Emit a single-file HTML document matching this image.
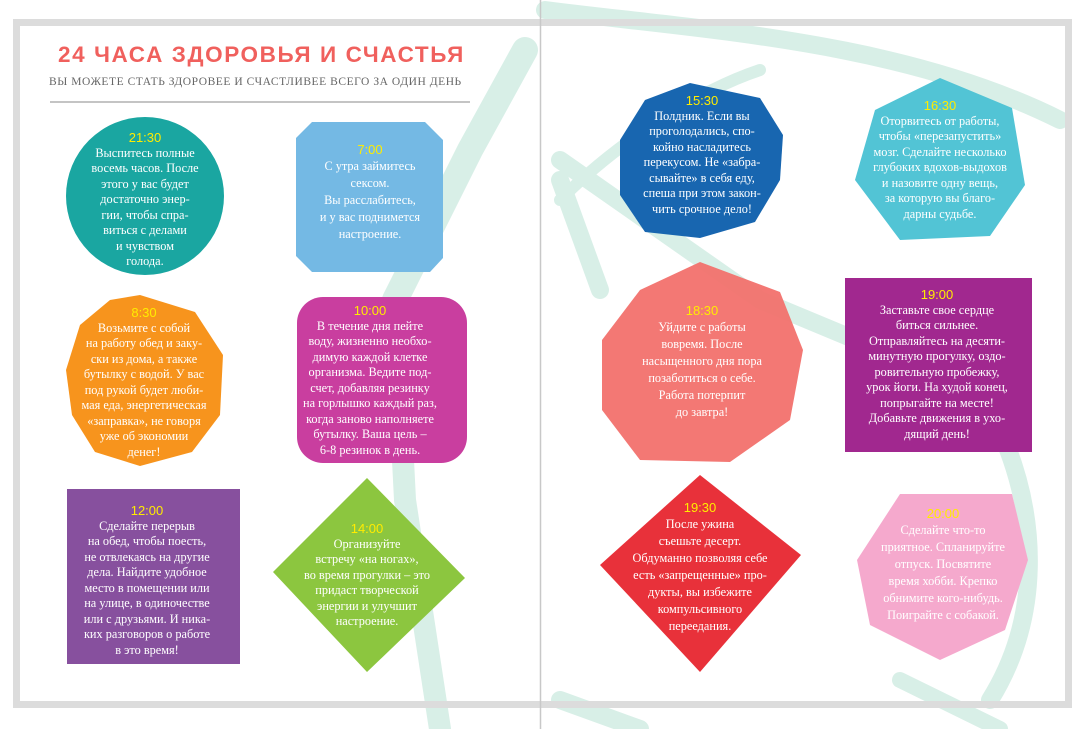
<!DOCTYPE html>
<html><head><meta charset="utf-8">
<style>
html,body{margin:0;padding:0}
body{width:1087px;height:729px;position:relative;overflow:hidden;background:#fff;font-family:"Liberation Serif","DejaVu Serif",serif}
svg{position:absolute;left:0;top:0}
.t{position:absolute;text-align:center;color:#fff;font-size:12.3px;line-height:15.5px;white-space:nowrap;transform:translateX(-50%)}
.t b{color:#ffec00;font-family:"Liberation Sans",sans-serif;font-weight:normal;font-size:13px;display:block}
.title{position:absolute;left:58px;top:42px;font-family:"Liberation Sans",sans-serif;font-weight:bold;font-size:22.5px;letter-spacing:1.6px;color:#f0605d}
.sub{position:absolute;left:49px;top:76px;font-size:11.5px;color:#666;letter-spacing:0.55px}
</style></head><body>
<svg width="1087" height="729" viewBox="0 0 1087 729">
 <g fill="none" stroke="#d8efe7" stroke-linecap="round">
  <path d="M525 50 L470 150 L395 300" stroke-width="26"/>
  <path d="M395 300 L405 500 L440 729" stroke-width="22"/>
  <path d="M560 180 L600 290" stroke-width="18"/>
  <path d="M545 10 C700 30 900 40 1060 120" stroke-width="18"/>
  <path d="M560 200 C620 140 700 90 760 70" stroke-width="12"/>
  <path d="M560 160 L760 300 L1000 400" stroke-width="18"/>
  <path d="M1000 430 C1040 520 1040 620 990 700" stroke-width="18"/>
  <path d="M560 700 L640 729" stroke-width="18"/>
  <path d="M900 680 L1000 729" stroke-width="16"/>
 </g>
 <rect x="16.5" y="22.5" width="1052" height="682" fill="none" stroke="#dcdcdc" stroke-width="7"/>
 <line x1="540.5" y1="0" x2="540.5" y2="729" stroke="#c8c8c8" stroke-width="1.5"/>
 <line x1="50" y1="102" x2="470" y2="102" stroke="#888" stroke-width="1"/>
 <circle cx="145" cy="196" r="79" fill="#1aa6a1"/>
 <polygon points="312,122 425,122 443,140 443,258 430,272 312,272 296,256 296,138" fill="#74b9e4"/>
 <polygon points="140,295 195,312 223,355 220,415 192,452 140,466 95,452 72,415 66,370 80,325 110,300" fill="#f7941d"/>
 <rect x="297" y="297" width="170" height="166" rx="26" fill="#c93e9f"/>
 <rect x="67" y="489" width="173" height="175" fill="#87509e"/>
 <polygon points="367,478 465,578 367,672 273,572" fill="#8cc63f"/>
 <polygon points="690,83 760,98 783,135 780,180 755,222 700,238 645,232 620,195 620,140 645,100" fill="#1866b0"/>
 <polygon points="940,78 1012,108 1025,185 990,236 900,240 855,180 875,110" fill="#52c4d5"/>
 <polygon points="700,262 780,292 803,350 790,420 730,462 640,460 602,410 602,340 640,290" fill="#f2716d" opacity="0.95"/>
 <rect x="845" y="278" width="187" height="174" fill="#a1288f"/>
 <polygon points="700,475 801,555 700,672 600,565" fill="#e8313a"/>
 <polygon points="900,494 1012,494 1028,560 1005,630 940,660 870,625 857,560" fill="#f5a9cd"/>
</svg>
<div class="title">24 ЧАСА ЗДОРОВЬЯ И СЧАСТЬЯ</div>
<div class="sub">ВЫ МОЖЕТЕ СТАТЬ ЗДОРОВЕЕ И СЧАСТЛИВЕЕ ВСЕГО ЗА ОДИН ДЕНЬ</div>

<div class="t" style="left:145px;top:130px"><b>21:30</b>Выспитесь полные<br>восемь часов. После<br>этого у вас будет<br>достаточно энер-<br>гии, чтобы спра-<br>виться с делами<br>и чувством<br>голода.</div>
<div class="t" style="left:370px;top:141px;line-height:17px"><b>7:00</b>С утра займитесь<br>сексом.<br>Вы расслабитесь,<br>и у вас поднимется<br>настроение.</div>
<div class="t" style="left:144px;top:305px"><b>8:30</b>Возьмите с собой<br>на работу обед и заку-<br>ски из дома, а также<br>бутылку с водой. У вас<br>под рукой будет люби-<br>мая еда, энергетическая<br>«заправка», не говоря<br>уже об экономии<br>денег!</div>
<div class="t" style="left:370px;top:303px"><b>10:00</b>В течение дня пейте<br>воду, жизненно необхо-<br>димую каждой клетке<br>организма. Ведите под-<br>счет, добавляя резинку<br>на горлышко каждый раз,<br>когда заново наполняете<br>бутылку. Ваша цель –<br>6-8 резинок в день.</div>
<div class="t" style="left:147px;top:503px"><b>12:00</b>Сделайте перерыв<br>на обед, чтобы поесть,<br>не отвлекаясь на другие<br>дела. Найдите удобное<br>место в помещении или<br>на улице, в одиночестве<br>или с друзьями. И ника-<br>ких разговоров о работе<br>в это время!</div>
<div class="t" style="left:367px;top:521px"><b>14:00</b>Организуйте<br>встречу «на ногах»,<br>во время прогулки – это<br>придаст творческой<br>энергии и улучшит<br>настроение.</div>

<div class="t" style="left:702px;top:93px"><b>15:30</b>Полдник. Если вы<br>проголодались, спо-<br>койно насладитесь<br>перекусом. Не «забра-<br>сывайте» в себя еду,<br>спеша при этом закон-<br>чить срочное дело!</div>
<div class="t" style="left:940px;top:98px"><b>16:30</b>Оторвитесь от работы,<br>чтобы «перезапустить»<br>мозг. Сделайте несколько<br>глубоких вдохов-выдохов<br>и назовите одну вещь,<br>за которую вы благо-<br>дарны судьбе.</div>
<div class="t" style="left:702px;top:302px;line-height:17px"><b>18:30</b>Уйдите с работы<br>вовремя. После<br>насыщенного дня пора<br>позаботиться о себе.<br>Работа потерпит<br>до завтра!</div>
<div class="t" style="left:937px;top:287px"><b>19:00</b>Заставьте свое сердце<br>биться сильнее.<br>Отправляйтесь на десяти-<br>минутную прогулку, оздо-<br>ровительную пробежку,<br>урок йоги. На худой конец,<br>попрыгайте на месте!<br>Добавьте движения в ухо-<br>дящий день!</div>
<div class="t" style="left:700px;top:499px;line-height:17px"><b>19:30</b>После ужина<br>съешьте десерт.<br>Обдуманно позволяя себе<br>есть «запрещенные» про-<br>дукты, вы избежите<br>компульсивного<br>переедания.</div>
<div class="t" style="left:943px;top:505px;line-height:17px"><b>20:00</b>Сделайте что-то<br>приятное. Спланируйте<br>отпуск. Посвятите<br>время хобби. Крепко<br>обнимите кого-нибудь.<br>Поиграйте с собакой.</div>
</body></html>
